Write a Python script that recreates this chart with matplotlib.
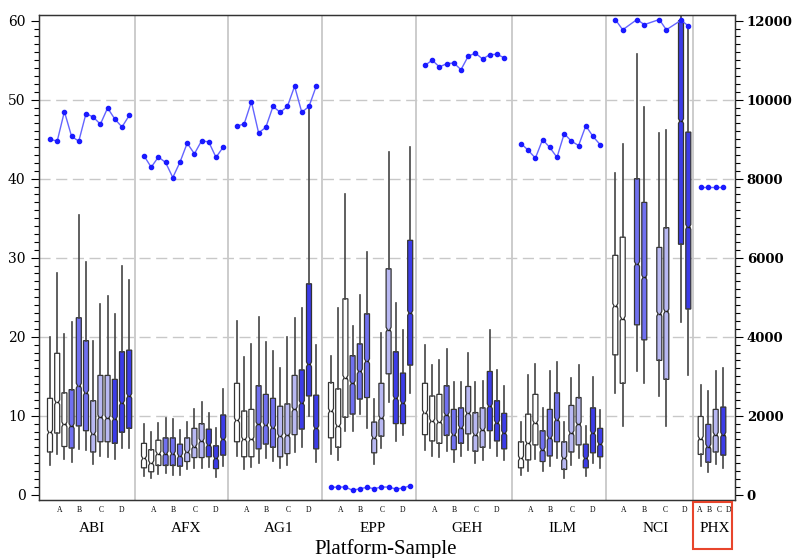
import numpy as np
import matplotlib
matplotlib.use("Agg")
import matplotlib.pyplot as plt
from matplotlib.patches import Rectangle

# box stats per group: (whisker low, q1, median, q3, whisker high)
ABI = [(3.8, 5.4, 7.9, 12.2, 20.0), (5.2, 7.8, 11.7, 17.9, 28.0), (4.5, 6.1, 8.9, 12.9, 20.3),
       (4.2, 5.9, 8.7, 13.3, 21.8), (5.8, 8.7, 13.8, 22.4, 35.4), (5.7, 8.1, 12.9, 19.5, 29.4),
       (3.9, 5.4, 7.7, 11.9, 19.5), (4.9, 6.7, 9.8, 15.1, 24.2), (4.8, 6.7, 9.7, 15.1, 25.1),
       (4.5, 6.5, 9.6, 14.6, 22.9), (5.9, 7.9, 11.6, 18.1, 29.0), (5.9, 8.4, 12.5, 18.3, 27.2)]
AFX = [(2.4, 3.4, 4.6, 6.5, 8.9), (2.1, 2.9, 4.0, 5.7, 7.9), (2.6, 3.7, 5.2, 6.9, 9.1),
       (2.7, 3.7, 5.2, 7.2, 9.7), (2.5, 3.7, 5.2, 7.2, 9.6), (2.5, 3.6, 4.9, 6.4, 8.2),
       (3.2, 4.2, 5.4, 7.2, 9.2), (3.4, 4.7, 6.1, 8.4, 10.9), (3.4, 4.7, 6.8, 9.0, 11.7),
       (3.5, 4.8, 6.3, 8.3, 10.4), (2.3, 3.3, 4.6, 6.2, 8.4), (3.6, 5.0, 7.0, 10.1, 13.4)]
AG1 = [(4.9, 6.7, 9.4, 14.1, 22.0), (3.3, 4.8, 7.0, 10.6, 17.4), (3.5, 4.8, 7.0, 10.8, 19.1),
       (4.0, 5.8, 8.9, 13.8, 22.5), (4.6, 6.4, 8.8, 12.7, 19.3), (4.3, 6.0, 8.5, 12.2, 18.2),
       (3.4, 4.8, 7.4, 11.2, 16.0), (3.8, 5.2, 7.5, 11.5, 20.0), (5.4, 7.6, 10.8, 15.1, 22.4),
       (6.0, 8.3, 11.6, 15.8, 23.6), (10.0, 12.5, 16.5, 26.7, 49.0), (4.1, 5.8, 8.4, 12.6, 18.9)]
EPP = [(5.1, 7.2, 10.6, 14.2, 17.6), (4.4, 6.0, 8.7, 13.4, 23.6), (8.1, 9.8, 14.8, 24.8, 38.0),
       (8.1, 10.2, 14.1, 17.6, 21.3), (10.2, 12.1, 15.6, 19.1, 25.3), (8.4, 12.3, 16.9, 22.9, 30.7),
       (3.9, 5.3, 7.2, 9.2, 12.1), (5.9, 7.4, 9.7, 14.1, 20.5), (11.7, 15.3, 20.9, 28.6, 43.4),
       (6.8, 9.0, 12.2, 18.1, 24.3), (7.5, 9.0, 11.6, 15.4, 20.8), (12.9, 16.4, 23.0, 32.2, 44.0)]
GEH = [(5.6, 7.6, 10.4, 14.1, 19.0), (4.9, 6.8, 9.3, 12.5, 16.4), (4.8, 6.5, 9.2, 12.7, 17.0),
       (5.5, 7.5, 10.1, 13.8, 18.4), (4.2, 5.7, 7.6, 10.8, 14.3), (4.9, 6.5, 8.5, 11.0, 14.3),
       (5.6, 7.7, 10.3, 13.7, 17.9), (4.0, 5.5, 7.6, 10.4, 14.3), (4.4, 6.0, 8.2, 11.0, 14.4),
       (5.9, 8.1, 11.2, 15.6, 20.9), (4.9, 6.8, 9.1, 11.9, 15.8), (4.4, 5.8, 7.8, 10.3, 13.7)]
ILM = [(2.5, 3.4, 4.6, 6.7, 9.2), (3.0, 4.4, 6.5, 10.2, 15.1), (4.5, 6.3, 9.1, 12.7, 16.6),
       (3.0, 4.2, 5.7, 8.1, 11.0), (3.6, 4.9, 7.2, 10.8, 15.6), (4.7, 6.7, 9.5, 12.9, 16.8),
       (2.1, 3.2, 4.6, 6.7, 9.2), (3.7, 5.4, 7.8, 11.3, 14.8), (4.6, 6.3, 8.9, 12.3, 16.4),
       (2.4, 3.4, 4.6, 6.4, 8.7), (4.0, 5.3, 7.8, 11.0, 14.9), (3.4, 4.8, 6.4, 8.4, 10.7)]
NCI = [(12.9, 17.7, 23.9, 30.3, 40.7), (8.7, 14.1, 22.3, 32.6, 44.4),
       (15.7, 21.5, 29.2, 40.0, 55.8), (14.1, 19.6, 27.5, 37.0, 49.1),
       (12.5, 17.0, 22.9, 31.3, 45.8), (8.7, 14.6, 23.2, 33.8, 46.2),
       (21.9, 31.7, 47.3, 60.0, 64.0), (15.1, 23.5, 33.9, 45.9, 59.5)]
PHX = [(3.6, 5.1, 7.1, 9.9, 13.9), (2.9, 4.1, 6.1, 8.9, 13.1),
       (3.9, 5.4, 7.6, 10.8, 15.6), (3.4, 5.0, 7.6, 11.1, 16.1)]

# second series (right axis)
ABI_N = [9000, 8950, 9700, 9070, 8950, 9650, 9560, 9380, 9790, 9510, 9310, 9600]
AFX_N = [8580, 8290, 8550, 8410, 8030, 8420, 8900, 8630, 8960, 8930, 8540, 8800]
AG1_N = [9330, 9390, 9950, 9160, 9300, 9830, 9680, 9830, 10340, 9680, 9830, 10340]
EPP_N = [186, 194, 194, 110, 152, 186, 152, 194, 194, 144, 169, 228]
GEH_N = [10870, 11000, 10830, 10910, 10930, 10760, 11100, 11180, 11030, 11140, 11150, 11060]
ILM_N = [8890, 8720, 8520, 8990, 8790, 8540, 9140, 8950, 8840, 9340, 9070, 8860]
NCI_N = [12030, 11770, 12030, 11900, 12030, 11770, 12010, 11870]
PHX_N = [7790, 7790, 7790, 7790]

platforms = ["ABI", "AFX", "AG1", "EPP", "GEH", "ILM", "NCI", "PHX"]
samples = ["A", "B", "C", "D"]
boxes = [ABI, AFX, AG1, EPP, GEH, ILM, NCI, PHX]
counts = [ABI_N, AFX_N, AG1_N, EPP_N, GEH_N, ILM_N, NCI_N, PHX_N]

# layout (x in screen-like units)
starts = [41, 135, 228, 322, 416, 512, 606, 693]
reg_off = [9 + 7.2 * i for i in range(12)]
box_off = [reg_off] * 6 + [[9.3, 16.7, 31, 38.3, 53.3, 60.3, 75, 82.3], [7.7, 15.3, 22.7, 30.3]]
tick_off = [[19, 38.5, 60, 81]] * 6 + [[18, 38, 59, 79], [7, 16.3, 26, 35.3]]
sample_colors = ["#ffffff", "#7070f0", "#b8b8f2", "#3c3ce8"]

fig = plt.figure(figsize=(7.93, 5.58), dpi=100)
ax = fig.add_axes([38.7 / 793, 1 - 500 / 558, (735 - 38.7) / 793, 485 / 558])
ax.set_xlim(38.7, 735)
ax.set_ylim(-0.67, 60.72)

for y in range(10, 60, 10):
    ax.axhline(y, color="#c8c8c8", lw=1.0, ls=(0, (8, 4)), zorder=0)
for s in starts[1:]:
    ax.axvline(s, color="#c8c8c8", lw=1.3, zorder=0)

xt, xl = [], []
for g, name in enumerate(platforms):
    st = boxes[g]
    per = len(st) // 4
    stats = []
    for b in st:
        stats.append(dict(whislo=b[0], q1=b[1], med=b[2], q3=b[3], whishi=b[4],
                          cilo=b[2] - 0.3, cihi=b[2] + 0.3, fliers=[]))
    pos = [starts[g] + o for o in box_off[g]]
    art = ax.bxp(stats, positions=pos, widths=5, patch_artist=True, shownotches=True,
                 showcaps=False, showfliers=False, manage_ticks=False,
                 boxprops=dict(edgecolor="#333333", linewidth=0.9),
                 whiskerprops=dict(color="#444444", linewidth=1.2),
                 medianprops=dict(color="#222222", linewidth=1.0))
    for i, p in enumerate(art["boxes"]):
        p.set_facecolor(sample_colors[i // per])
    tp = [starts[g] + o for o in tick_off[g]]
    xt += tp
    xl += samples
    ax.text(np.mean(tp) + 1, -0.058, name, transform=ax.get_xaxis_transform(),
            ha="center", va="center", fontsize=11, family="Liberation Serif")

ax.set_xticks(xt)
ax.set_xticklabels(xl, fontsize=5.5, family="Liberation Serif")
ax.tick_params(axis="x", length=0, pad=4)

ax.set_yticks(range(0, 61, 10))
ax.set_yticks(range(0, 61, 1), minor=True)
ax.tick_params(axis="y", which="major", length=6, width=0.8, labelsize=10)
ax.tick_params(axis="y", which="minor", length=3.5, width=0.8)
for lab in ax.get_yticklabels():
    lab.set_family("DejaVu Serif")

ax2 = ax.twinx()
ax2.set_ylim(-0.67 * 200, 60.72 * 200)
for g in range(len(platforms)):
    pos = [starts[g] + o for o in box_off[g]]
    ax2.plot(pos, counts[g], color="#6464ff", lw=1.0, marker="o", ms=3.0,
             mfc="#1a1aff", mec="#1a1aff")
ax2.set_yticks(range(0, 12001, 2000))
ax2.set_yticks(range(0, 12001, 200), minor=True)
ax2.tick_params(axis="y", which="major", length=6, width=0.8, labelsize=9.5, pad=2.5)
ax2.tick_params(axis="y", which="minor", length=3.5, width=0.8)
for lab in ax2.get_yticklabels():
    lab.set_family("DejaVu Serif")
    lab.set_fontweight("bold")

for a in (ax, ax2):
    for sp in a.spines.values():
        sp.set_color("#333333")
        sp.set_linewidth(0.9)

fig.text(386 / 793, 1 - 549 / 558, "Platform-Sample", ha="center", va="center",
         fontsize=15, family="Liberation Serif")
fig.patches.append(Rectangle((692.7 / 793, 1 - 549 / 558), 39.6 / 793, 47.3 / 558,
                             transform=fig.transFigure, fill=False,
                             edgecolor="#e8452c", lw=1.5))

fig.savefig("out.png", dpi=100)
